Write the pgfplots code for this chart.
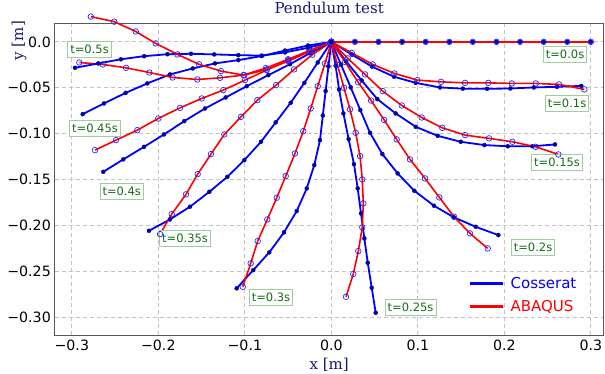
\documentclass[border=0pt]{standalone}
\usepackage{fontspec}
\setmainfont{DejaVu Sans}
\newfontfamily\seriffont{DejaVu Serif}
\usepackage{pgfplots}
\pgfplotsset{compat=1.18}
\definecolor{navyt}{RGB}{25,25,112}
\definecolor{dotblue}{RGB}{0,0,170}
\definecolor{lblgreen}{RGB}{160,205,160}
\definecolor{txtgreen}{RGB}{20,110,20}
\definecolor{gridgray}{RGB}{195,195,195}
\pgfplotsset{
  coss/.style={color=blue, line width=1.8pt, mark=*, mark size=2pt, mark options={fill=dotblue, draw=dotblue, line width=0.4pt}},
  abq/.style={color=red, line width=1.6pt, mark=o, mark size=2.8pt, mark options={draw=blue!85, fill=none, line width=0.7pt}},
}
\tikzset{
  lbl/.style={draw=lblgreen, fill=white, text=txtgreen, font=\fontsize{11.5}{13}\selectfont, inner xsep=2.5pt, inner ysep=3.5pt, line width=0.7pt},
  xtl/.style={anchor=north, inner sep=0pt, yshift=-4pt, font=\fontsize{14.2}{16}\selectfont},
  ytl/.style={anchor=east, inner sep=0pt, xshift=-3.5pt, font=\fontsize{14.2}{16}\selectfont},
}
\begin{document}
\begin{tikzpicture}
\useasboundingbox (0,0) rectangle (605pt,374pt);
\begin{axis}[
  at={(54.5pt,38.5pt)}, anchor=south west,
  scale only axis, width=549.3pt, height=312pt,
  xmin=-0.32, xmax=0.315, ymin=-0.32, ymax=0.02,
  clip=false,
  xtick={-0.3,-0.2,-0.1,0,0.1,0.2,0.3},
  ytick={-0.3,-0.25,-0.2,-0.15,-0.1,-0.05,0},
  xticklabels={}, yticklabels={},
  major tick length=0pt,
  grid=major,
  major grid style={gridgray, dash pattern=on 4pt off 3pt, line width=0.8pt},
  axis line style={draw=black!65, line width=1.1pt},
  title={Pendulum test},
  title style={font=\seriffont\fontsize{15}{18}\selectfont, text=navyt, at={(0.5,1)}, anchor=base, yshift=4.2pt},
  legend style={at={(axis cs:0.1585,-0.2545)}, anchor=north west, draw=none, fill=none, font=\fontsize{15}{18}\selectfont, row sep=6pt, column sep=4pt, inner sep=0pt},
  legend cell align=left,
]
\addlegendimage{legend image code/.code={\draw[blue, line width=3pt] (0pt,0pt) -- (33pt,0pt);}}
\addlegendentry{\textcolor{blue}{Cosserat}}
\addlegendimage{legend image code/.code={\draw[red, line width=3pt] (0pt,0pt) -- (33pt,0pt);}}
\addlegendentry{\textcolor{red}{ABAQUS}}

% t = 0.0
\addplot[coss] coordinates {(0,0)(0.0273,0)(0.0545,0)(0.0818,0)(0.1091,0)(0.1364,0)(0.1636,0)(0.1909,0)(0.2182,0)(0.2455,0)(0.2727,0)(0.3,0)};
\addplot[abq] coordinates {(0,0)(0.0273,0)(0.0545,0)(0.0818,0)(0.1091,0)(0.1364,0)(0.1636,0)(0.1909,0)(0.2182,0)(0.2455,0)(0.2727,0)(0.3,0)};
% t = 0.1
\addplot[coss] coordinates {(0,0)(0.024,-0.014)(0.047,-0.027)(0.0725,-0.038)(0.0976,-0.0447)(0.1257,-0.0497)(0.152,-0.051)(0.180,-0.0512)(0.207,-0.0508)(0.234,-0.0497)(0.261,-0.049)(0.289,-0.048)};
\addplot[abq] coordinates {(0,0)(0.0236,-0.012)(0.0479,-0.0246)(0.0729,-0.0344)(0.0994,-0.0417)(0.1268,-0.0436)(0.1546,-0.0447)(0.1815,-0.0447)(0.2086,-0.0453)(0.2363,-0.0453)(0.2632,-0.0464)(0.2925,-0.0518)};
% t = 0.15
\addplot[coss] coordinates {(0,0)(0.017,-0.021)(0.035,-0.042)(0.0532,-0.0624)(0.0744,-0.078)(0.0976,-0.0926)(0.123,-0.1024)(0.1496,-0.1089)(0.1769,-0.1125)(0.2039,-0.1138)(0.2324,-0.1138)(0.2586,-0.1118)};
\addplot[abq] coordinates {(0,0)(0.019,-0.018)(0.039,-0.0355)(0.0594,-0.0537)(0.0814,-0.0693)(0.1045,-0.0824)(0.1283,-0.0937)(0.1546,-0.1016)(0.1823,-0.1052)(0.2093,-0.1089)(0.2363,-0.1144)(0.2625,-0.1227)};
% t = 0.2
\addplot[coss] coordinates {(0,0)(0.0112,-0.0248)(0.0224,-0.0496)(0.0335,-0.0743)(0.0447,-0.0991)(0.059,-0.1223)(0.0767,-0.1434)(0.096,-0.1623)(0.1187,-0.1786)(0.1418,-0.1913)(0.1669,-0.2015)(0.1931,-0.2106)};
\addplot[abq] coordinates {(0,0)(0.016,-0.022)(0.031,-0.044)(0.046,-0.064)(0.061,-0.085)(0.0756,-0.1063)(0.091,-0.1281)(0.1083,-0.1488)(0.1249,-0.1695)(0.1418,-0.1906)(0.1603,-0.2087)(0.1808,-0.2251)};
% t = 0.25
\addplot[coss] coordinates {(0,0)(0.005,-0.026)(0.009,-0.052)(0.014,-0.078)(0.02,-0.106)(0.0262,-0.1332)(0.0305,-0.1597)(0.0343,-0.1869)(0.0382,-0.2142)(0.0421,-0.2407)(0.0467,-0.268)(0.0513,-0.2952)};
\addplot[abq] coordinates {(0,0)(0.007,-0.025)(0.0147,-0.0501)(0.0216,-0.0736)(0.0282,-0.0991)(0.0332,-0.1245)(0.0358,-0.1499)(0.037,-0.176)(0.0358,-0.2022)(0.0312,-0.228)(0.0254,-0.253)(0.017,-0.2778)};
% t = 0.3
\addplot[coss] coordinates {(0,0)(-0.0033,-0.0268)(-0.0066,-0.0536)(-0.0098,-0.0803)(-0.0131,-0.1071)(-0.0197,-0.1343)(-0.0284,-0.1597)(-0.04,-0.1844)(-0.0547,-0.2076)(-0.0717,-0.2294)(-0.0902,-0.2487)(-0.1094,-0.2686)};
\addplot[abq] coordinates {(0,0)(-0.0073,-0.0236)(-0.0157,-0.0483)(-0.0238,-0.0726)(-0.0324,-0.0973)(-0.042,-0.1216)(-0.0527,-0.1463)(-0.0631,-0.1699)(-0.074,-0.1935)(-0.0851,-0.2171)(-0.0932,-0.2414)(-0.1024,-0.2669)};
% t = 0.35
\addplot[coss] coordinates {(0,0)(-0.0157,-0.0225)(-0.0312,-0.0447)(-0.047,-0.0664)(-0.0643,-0.0878)(-0.0813,-0.1089)(-0.1006,-0.1289)(-0.1202,-0.1471)(-0.141,-0.1634)(-0.1634,-0.1797)(-0.1865,-0.1935)(-0.2108,-0.2059)};
\addplot[abq] coordinates {(0,0)(-0.022,-0.014)(-0.043,-0.03)(-0.0639,-0.0472)(-0.0855,-0.0635)(-0.1044,-0.0817)(-0.1237,-0.1009)(-0.1391,-0.1223)(-0.1545,-0.1441)(-0.168,-0.1662)(-0.1845,-0.1877)(-0.198,-0.2095)};
% t = 0.4
\addplot[coss] coordinates {(0,0)(-0.024,-0.012)(-0.0477,-0.0243)(-0.0728,-0.0363)(-0.0978,-0.0483)(-0.1221,-0.0606)(-0.146,-0.0726)(-0.17,-0.0864)(-0.1934,-0.1009)(-0.2165,-0.1144)(-0.2405,-0.1281)(-0.2636,-0.1416)};
\addplot[abq] coordinates {(0,0)(-0.0249,-0.0095)(-0.0498,-0.02)(-0.0747,-0.0308)(-0.0998,-0.0417)(-0.1249,-0.0526)(-0.1498,-0.0617)(-0.1749,-0.0719)(-0.2,-0.0835)(-0.2243,-0.0962)(-0.2489,-0.1071)(-0.2732,-0.118)};
% t = 0.45
\addplot[coss] coordinates {(0,0)(-0.027,-0.004)(-0.0535,-0.0095)(-0.0805,-0.0155)(-0.1075,-0.0199)(-0.1345,-0.0235)(-0.1602,-0.029)(-0.1865,-0.0355)(-0.2127,-0.0453)(-0.2377,-0.0556)(-0.2628,-0.0671)(-0.2874,-0.0788)};
\addplot[abq] coordinates {(0,0)(-0.025,-0.0095)(-0.05,-0.019)(-0.0755,-0.0285)(-0.1015,-0.0362)(-0.1287,-0.0392)(-0.1549,-0.041)(-0.1834,-0.0388)(-0.2104,-0.0334)(-0.2373,-0.0283)(-0.2643,-0.0246)(-0.2913,-0.0225)};
% t = 0.5
\addplot[coss] coordinates {(0,0)(-0.027,-0.0065)(-0.0535,-0.0115)(-0.0805,-0.015)(-0.1075,-0.0145)(-0.1353,-0.0137)(-0.1622,-0.013)(-0.1894,-0.0135)(-0.2164,-0.0156)(-0.2433,-0.019)(-0.2694,-0.0235)(-0.2963,-0.0283)};
\addplot[abq] coordinates {(0,0)(-0.025,-0.0105)(-0.0497,-0.021)(-0.0747,-0.0301)(-0.1006,-0.0363)(-0.1275,-0.0319)(-0.153,-0.0245)(-0.1778,-0.0137)(-0.203,-0.0017)(-0.2261,0.0113)(-0.251,0.022)(-0.278,0.0275)};

% tick labels
\node[xtl] at (axis cs:-0.3,-0.32) {−0.3};
\node[xtl] at (axis cs:-0.2,-0.32) {−0.2};
\node[xtl] at (axis cs:-0.1,-0.32) {−0.1};
\node[xtl] at (axis cs:0,-0.32) {0.0};
\node[xtl] at (axis cs:0.1,-0.32) {0.1};
\node[xtl] at (axis cs:0.2,-0.32) {0.2};
\node[xtl] at (axis cs:0.3,-0.32) {0.3};
\node[ytl] at (axis cs:-0.32,0) {0.0};
\node[ytl] at (axis cs:-0.32,-0.05) {−0.05};
\node[ytl] at (axis cs:-0.32,-0.1) {−0.10};
\node[ytl] at (axis cs:-0.32,-0.15) {−0.15};
\node[ytl] at (axis cs:-0.32,-0.2) {−0.20};
\node[ytl] at (axis cs:-0.32,-0.25) {−0.25};
\node[ytl] at (axis cs:-0.32,-0.3) {−0.30};

% time labels
\node[lbl] at (axis cs:-0.2795,-0.008) {t=0.5s};
\node[lbl] at (axis cs:-0.2732,-0.0946) {t=0.45s};
\node[lbl] at (axis cs:-0.2423,-0.1626) {t=0.4s};
\node[lbl] at (axis cs:-0.1691,-0.2144) {t=0.35s};
\node[lbl] at (axis cs:-0.0697,-0.2787) {t=0.3s};
\node[lbl] at (axis cs:0.0916,-0.289) {t=0.25s};
\node[lbl] at (axis cs:0.2332,-0.2242) {t=0.2s};
\node[lbl] at (axis cs:0.2609,-0.1316) {t=0.15s};
\node[lbl] at (axis cs:0.2725,-0.0673) {t=0.1s};
\node[lbl] at (axis cs:0.2702,-0.0134) {t=0.0s};

% axis labels
\node[font=\seriffont\fontsize{15}{18}\selectfont, text=navyt] at ([yshift=-29.5pt]rel axis cs:0.5,0) {x [m]};
\node[font=\seriffont\fontsize{15}{18}\selectfont, text=navyt, rotate=90] at ([xshift=-35.5pt]axis cs:-0.32,0.0013) {y [m]};
\end{axis}
\end{tikzpicture}
\end{document}
